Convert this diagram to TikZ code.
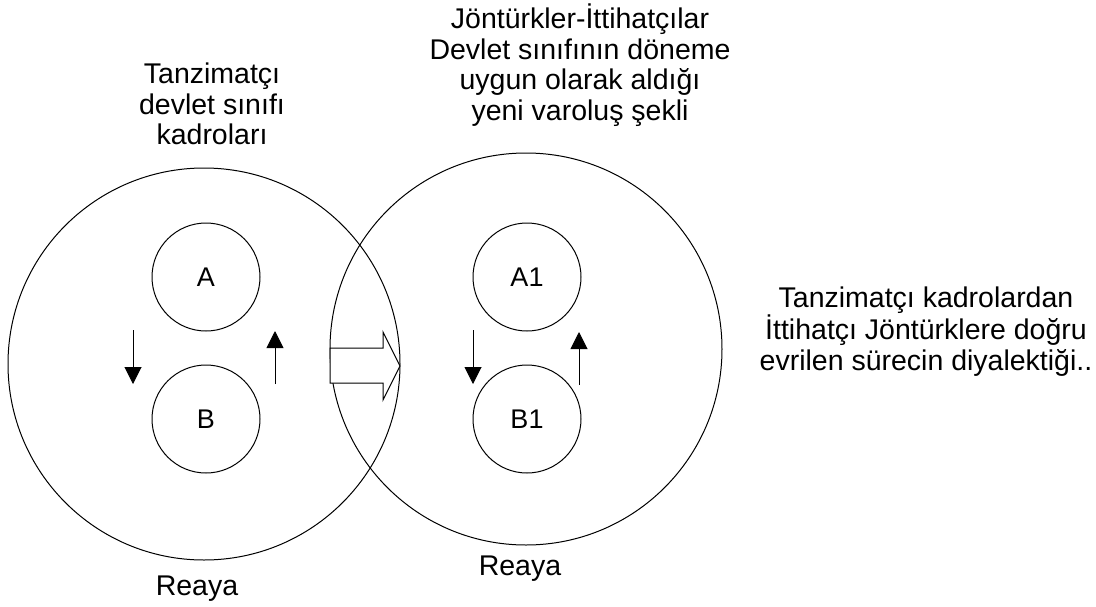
\documentclass[tikz,border=0pt]{standalone}
\usepackage{fontspec}
\setmainfont{Liberation Sans}
\usetikzlibrary{arrows.meta}
\begin{document}
\begin{tikzpicture}[x=1pt,y=-1pt,
  bigcirc/.style={draw,circle,line width=1pt,inner sep=0pt,minimum size=392pt},
  smallcirc/.style={draw,circle,line width=1pt,inner sep=0pt,minimum size=108pt,font=\fontsize{27}{30}\selectfont},
  lbl/.style={align=center,inner sep=0pt,font=\fontsize{28.5}{30.5}\selectfont},
  flow/.style={line width=1pt,-{Triangle[width=17pt,length=17pt]}},
  block/.style={draw,line width=1pt,fill=white,line join=miter}]
\useasboundingbox (0,0) rectangle (1096,606);
% big circles
\node[bigcirc] (L) at (204,364) {};
\node[bigcirc] (R) at (526,349) {};
% small circles
\node[smallcirc] (A) at (206,277) {A};
\node[smallcirc] (B) at (206,419) {B};
\node[smallcirc] (A1) at (527,277) {A1};
\node[smallcirc] (B1) at (527,419) {B1};
% cycle arrows
\coordinate (ld1) at (133,330); \coordinate (ld2) at (133,384);
\coordinate (lu1) at (275,384); \coordinate (lu2) at (275,331);
\coordinate (rd1) at (473,330); \coordinate (rd2) at (473,384);
\coordinate (ru1) at (579,385); \coordinate (ru2) at (579,332);
\draw[flow] (ld1) -- (ld2);
\draw[flow] (lu1) -- (lu2);
\draw[flow] (rd1) -- (rd2);
\draw[flow] (ru1) -- (ru2);
% block arrow
\coordinate (b1) at (330,348); \coordinate (b2) at (383,348);
\coordinate (b3) at (383,332); \coordinate (b4) at (400,366);
\coordinate (b5) at (383,400); \coordinate (b6) at (383,383);
\coordinate (b7) at (330,383);
\draw[block] (b1) -- (b2) -- (b3) -- (b4) -- (b5) -- (b6) -- (b7) -- cycle;
% texts
\node[lbl,anchor=north] (t1) at (212,63) {Tanzimatçı\\devlet sınıfı\\kadroları};
\node[lbl,anchor=north] (t2) at (580,4) {Jöntürkler-İttihatçılar\\Devlet sınıfının döneme\\uygun olarak aldığı\\yeni varoluş şekli};
\node[lbl,anchor=north] (t3) at (926,287) {Tanzimatçı kadrolardan\\İttihatçı Jöntürklere doğru\\evrilen sürecin diyalektiği..};
\node[lbl] (r1) at (197,589) {Reaya};
\node[lbl] (r2) at (520,569) {Reaya};
\end{tikzpicture}
\end{document}
